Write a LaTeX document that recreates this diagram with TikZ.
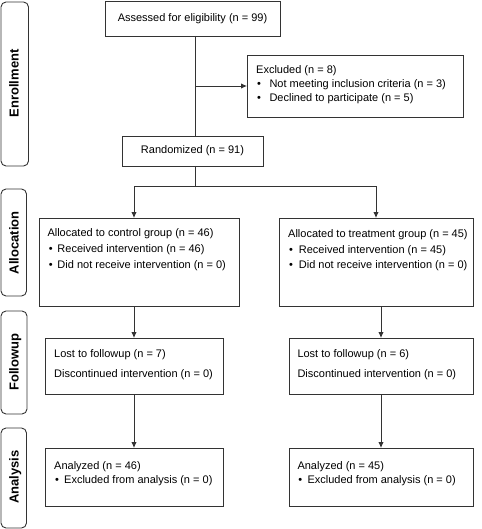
\documentclass[tikz,border=0pt]{standalone}
\usepackage{fontspec}
\setmainfont{Liberation Sans}
\usetikzlibrary{arrows.meta}
\definecolor{ln}{rgb}{0.2,0.2,0.2}
\newcommand{\bl}[1]{\makebox[#1][l]{\hspace{0pt}•}}
\begin{document}
\begin{tikzpicture}[x=1pt,y=-1pt,
  box/.style={draw=ln,line width=0.9pt,rectangle,inner sep=0pt,outer sep=0pt,anchor=north west,font=\fontsize{11}{13}\selectfont},
  side/.style={draw=ln,line width=0.9pt,rounded corners=5pt},
  sidelab/.style={rotate=90,anchor=base,inner sep=0pt,font=\fontsize{13}{15}\selectfont\bfseries},
  txt/.style={anchor=base west,inner sep=0pt,font=\fontsize{11}{13}\selectfont},
  conn/.style={draw=ln,line width=0.9pt},
  arr/.style={conn,-{Latex[length=6pt,width=5.5pt]}}]
\useasboundingbox (0,0) rectangle (481,529);
% side phase boxes
\draw[side] (1,2) rectangle (28.5,166);
\draw[side] (1,189) rectangle (26.5,296);
\draw[side] (1,311) rectangle (27,414);
\draw[side] (1,428) rectangle (26.5,528);
\node[sidelab] (lenr) at (18.7,83.3) {Enrollment};
\node[sidelab] (lall) at (18.7,242.8) {Allocation};
\node[sidelab] (lfol) at (18.7,362.3) {Followup};
\node[sidelab] (lana) at (18.7,477) {Analysis};
% boxes
\node[box,minimum width=175pt,minimum height=35pt] (assess) at (105,1) {Assessed for eligibility (n = 99)};
\node[box,minimum width=216pt,minimum height=62pt] (excl) at (247,55) {};
\node[box,minimum width=141pt,minimum height=30pt] (rand) at (122,136) {Randomized (n = 91)};
\node[box,minimum width=200pt,minimum height=88pt] (ctrl) at (39,218) {};
\node[box,minimum width=194pt,minimum height=88.5pt] (trt) at (279,218) {};
\node[box,minimum width=178pt,minimum height=56pt] (lostL) at (45,338) {};
\node[box,minimum width=184pt,minimum height=56pt] (lostR) at (289,338) {};
\node[box,minimum width=178pt,minimum height=58pt] (anaL) at (45,448) {};
\node[box,minimum width=184pt,minimum height=58pt] (anaR) at (289,448) {};
% texts
\node[txt] (e1) at (256,73.7) {Excluded (n = 8)};
\node[txt] (e2) at (257,87.7) {\bl{12.3pt}Not meeting inclusion criteria (n = 3)};
\node[txt] (e3) at (257,102) {\bl{12.3pt}Declined to participate (n = 5)};
\node[txt] (c1) at (47.3,236.8) {Allocated to control group (n = 46)};
\node[txt] (c2) at (48.6,252.5) {\bl{8.7pt}Received intervention (n = 46)};
\node[txt] (c3) at (48.6,268) {\bl{8.7pt}Did not receive intervention (n = 0)};
\node[txt] (t1) at (288,237.3) {Allocated to treatment group (n = 45)};
\node[txt] (t2) at (289,253.3) {\bl{9.7pt}Received intervention (n = 45)};
\node[txt] (t3) at (289,268.8) {\bl{9.7pt}Did not receive intervention (n = 0)};
\node[txt] (l1) at (54,357.5) {Lost to followup (n = 7)};
\node[txt] (l2) at (54,377) {Discontinued intervention (n = 0)};
\node[txt] (r1) at (297.3,357.5) {Lost to followup (n = 6)};
\node[txt] (r2) at (297.3,377) {Discontinued intervention (n = 0)};
\node[txt] (a1) at (54,469) {Analyzed (n = 46)};
\node[txt] (a2) at (54.8,483.5) {\bl{9.2pt}Excluded from analysis (n = 0)};
\node[txt] (b1) at (297.3,469) {Analyzed (n = 45)};
\node[txt] (b2) at (298.1,483.5) {\bl{9.2pt}Excluded from analysis (n = 0)};
% connectors
\coordinate (spine) at (195,0);
\coordinate (split) at (195,186);
\draw[conn] (assess.south -| spine) -- (rand.north -| spine);
\draw[arr] (excl.west -| spine) -- (excl.west);
\draw[conn] (rand.south -| spine) -- (split);
\draw[arr] (split) -| (lostL.north |- ctrl.north);
\draw[arr] (split) -| (trt.north);
\draw[arr] (lostL.north |- ctrl.south) -- (lostL.north);
\draw[arr] (lostR.north |- trt.south) -- (lostR.north);
\draw[arr] (lostL.south) -- (anaL.north);
\draw[arr] (lostR.south) -- (anaR.north);
\end{tikzpicture}
\end{document}
